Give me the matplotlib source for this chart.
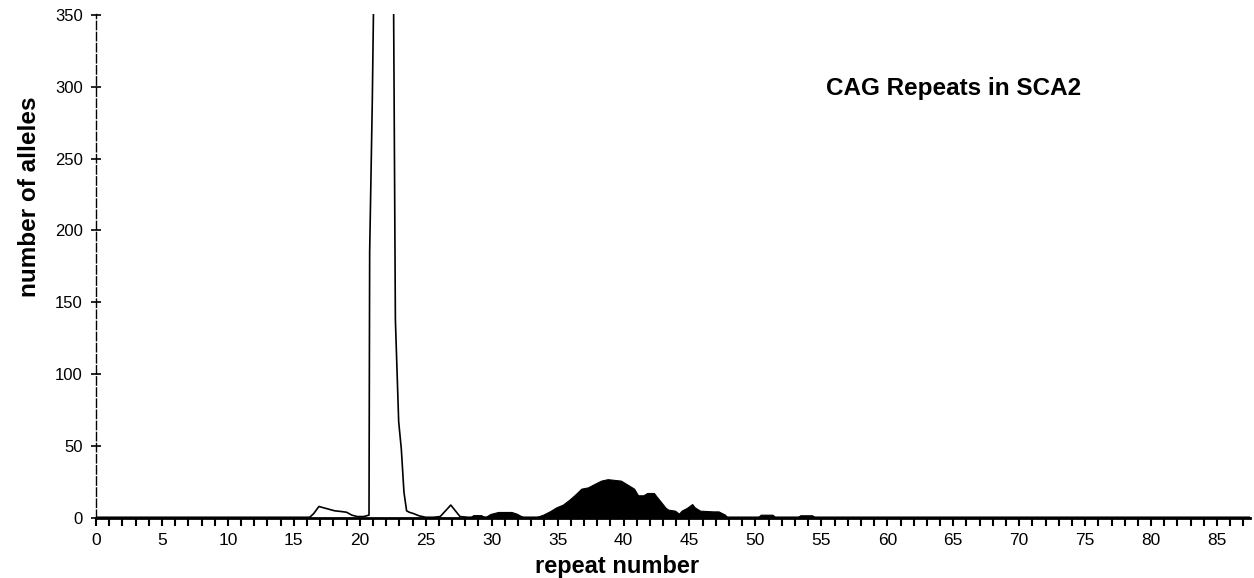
import matplotlib
matplotlib.use("Agg")
import matplotlib.pyplot as plt
from matplotlib.ticker import MultipleLocator

plt.rcParams['font.family'] = ['Liberation Sans', 'DejaVu Sans']

# Normal chromosomes (outline)
normal_x = [0, 16.2, 16.5, 16.9, 17.3, 17.7, 18.1, 18.6, 19.0, 19.4, 19.8, 20.3, 20.7,
            20.75, 20.95, 21.15, 22.0, 22.55, 22.7, 22.95, 23.15, 23.35, 23.55, 23.75,
            24.1, 24.5, 25.0, 25.6, 26.1, 26.9, 27.6, 28.2, 87.5]
normal_y = [0.5, 0.5, 3, 8, 7, 6, 5, 4.5, 4, 2, 1, 1, 2,
            185, 290, 430, 400, 380, 138, 67, 48, 18, 5, 4,
            3, 1.5, 0.5, 0.5, 1, 9, 1, 0.5, 0.5]

# SCA2 chromosomes (filled)
sca2_x = [27.8, 28.4, 28.6, 29.2, 29.5, 29.9, 30.5, 31.5, 31.9, 32.3, 32.6, 33.2, 33.5,
          33.9, 34.4, 34.9, 35.4, 35.9, 36.3, 36.8, 37.3, 37.8, 38.3, 38.8, 39.3, 39.8,
          40.3, 40.8, 41.1, 41.5, 41.8, 42.3, 42.5, 42.8, 43.2, 43.4, 43.9, 44.2, 44.4,
          44.8, 45.2, 45.4, 45.8, 46.8, 47.2, 47.7, 47.9, 48.5, 49.5, 50.2, 50.4, 51.3,
          51.5, 52.5, 53.2, 53.4, 54.3, 54.5, 56, 87.5]
sca2_y = [0, 0.5, 2, 2, 0.5, 2.8, 4.2, 4.2, 3, 1, 0, 0, 1,
          2.3, 4.6, 7.4, 9.3, 12.8, 16, 20.4, 21.3, 23.7, 26, 27, 26.5, 26,
          23.2, 20.4, 15.8, 15.8, 17.4, 17.4, 15, 11.6, 7, 5.8, 5.1, 3, 5.1,
          7, 9.7, 7.4, 5.1, 4.6, 4.6, 2.3, 0, 0.5, 0.5, 0.5, 2.3, 2.3,
          0.5, 0.5, 0.5, 1.9, 1.9, 0.5, 0.5, 0.5]

x_major = [0, 5, 10, 15, 20, 25, 30, 35, 40, 45, 50, 55, 60, 65, 70, 75, 80, 85]
y_major = [0, 50, 100, 150, 200, 250, 300, 350]

fig = plt.figure(figsize=(12.54, 5.78), dpi=100)
ax = fig.add_axes([96/1254, 1 - 518/578, 1154/1254, 504/578])

ax.fill_between(sca2_x, sca2_y, 0, color='black', linewidth=0.8, edgecolor='black')
ax.plot(normal_x, normal_y, color='black', linewidth=1.2)

ax.set_xlim(0, 87.5)
ax.set_ylim(0, 350.5)
ax.spines['top'].set_visible(False)
ax.spines['right'].set_visible(False)
ax.spines['bottom'].set_linewidth(2.0)
ax.spines['left'].set_linewidth(1.0)
ax.spines['left'].set_linestyle((0, (6, 2)))

ax.set_xticks(x_major)
ax.xaxis.set_minor_locator(MultipleLocator(1))
ax.set_yticks(y_major)
ax.tick_params(axis='x', which='both', direction='out', length=6, width=1.5,
               labelsize=12.5, pad=5)
ax.tick_params(axis='y', which='major', direction='inout', length=7, width=1.2,
               labelsize=12, pad=6)

ax.text(0.633, 0.853, 'CAG Repeats in SCA2', transform=ax.transAxes,
        fontsize=17.5, fontweight='bold', ha='left', va='center')

fig.text(617/1254, 1 - 567/578, 'repeat number', fontsize=17, fontweight='bold',
         ha='center', va='center')
fig.text(30/1254, 1 - 197/578, 'number of alleles', fontsize=17.5, fontweight='bold',
         ha='center', va='center', rotation=90)

fig.savefig('out.png', dpi=100)
